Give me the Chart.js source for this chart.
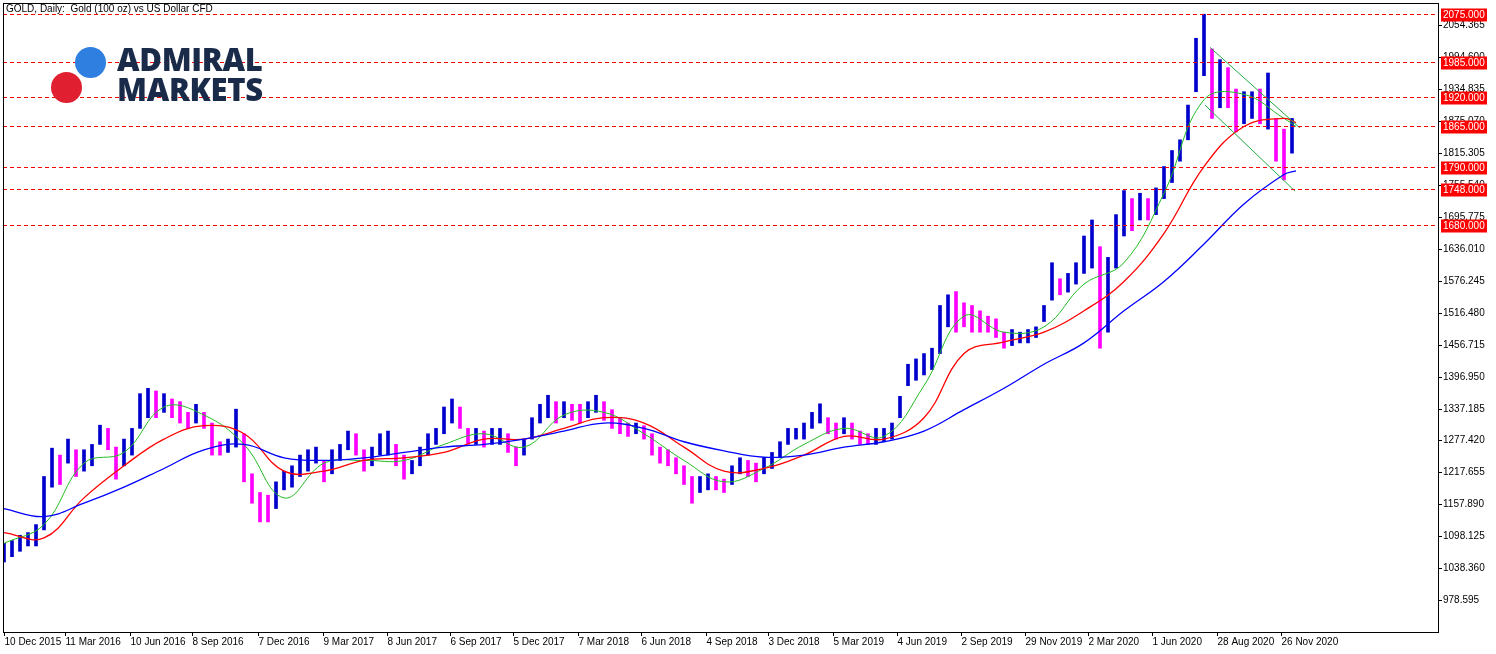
<!DOCTYPE html>
<html><head><meta charset="utf-8">
<script src="https://cdn.jsdelivr.net/npm/chart.js@4.4.1/dist/chart.umd.min.js"></script>
<style>
html,body{margin:0;padding:0;background:#fff;overflow:hidden}
#wrap{position:relative;width:1496px;height:654px}
#logo{position:absolute;left:50px;top:44px;width:230px;height:64px}
.c1{position:absolute;left:25px;top:3px;width:31px;height:31px;border-radius:50%;background:#2f7fe0}
.c2{position:absolute;left:1px;top:28px;width:31px;height:31px;border-radius:50%;background:#e02030}
.lt{position:absolute;left:67px;font:800 31px "Open Sans","DejaVu Sans",sans-serif;color:#1a2b4a;letter-spacing:-0.3px;line-height:30px}
</style></head><body>
<div id="wrap"><canvas id="c" width="1496" height="654"></canvas>
<div id="logo"><div class="c1"></div><div class="c2"></div><div class="lt" style="top:0px">ADMIRAL</div><div class="lt" style="top:30px">MARKETS</div></div>
</div>
<script>
const title = "GOLD, Daily:  Gold (100 oz) vs US Dollar CFD";
const xLabels = ["10 Dec 2015","11 Mar 2016","10 Jun 2016","8 Sep 2016","7 Dec 2016","9 Mar 2017","8 Jun 2017","6 Sep 2017","5 Dec 2017","7 Mar 2018","6 Jun 2018","4 Sep 2018","3 Dec 2018","5 Mar 2019","4 Jun 2019","2 Sep 2019","29 Nov 2019","2 Mar 2020","1 Jun 2020","28 Aug 2020","26 Nov 2020"];
const xLabelPos = [4,65,130,192,258,323,387,450,513,578,641,706,768,833,897,961,1025,1088,1152,1217,1281];
const yTicks = [978.595,1038.360,1098.125,1157.890,1217.655,1277.420,1337.185,1396.950,1456.715,1516.480,1576.245,1636.010,1695.775,1755.540,1815.305,1875.070,1934.835,1994.600,2054.365];
const levels = [2075,1985,1920,1865,1790,1748,1680];
const barStep = 8;
const lows = [1050,1060,1070,1080,1080,1110,1190,1195,1235,1210,1220,1230,1270,1260,1205,1230,1250,1300,1320,1320,1330,1320,1310,1300,1310,1300,1250,1250,1255,1265,1200,1160,1125,1125,1150,1185,1190,1210,1220,1235,1200,1215,1240,1260,1250,1220,1230,1250,1250,1230,1205,1215,1230,1250,1270,1290,1310,1300,1270,1270,1265,1270,1270,1255,1230,1250,1280,1310,1320,1310,1320,1315,1310,1320,1330,1315,1300,1290,1285,1290,1280,1250,1235,1230,1215,1195,1160,1180,1185,1185,1180,1195,1215,1210,1200,1215,1225,1245,1270,1280,1280,1300,1310,1290,1280,1290,1280,1270,1270,1270,1275,1280,1320,1380,1390,1400,1410,1440,1490,1480,1490,1480,1480,1480,1470,1450,1455,1460,1460,1470,1500,1540,1550,1555,1570,1590,1600,1450,1480,1600,1660,1670,1690,1690,1700,1730,1760,1800,1840,1930,1960,1880,1900,1900,1855,1870,1880,1870,1860,1800,1765,1815];
const highs = [1085,1090,1100,1105,1120,1210,1263,1250,1280,1260,1260,1270,1306,1300,1265,1280,1300,1365,1375,1370,1365,1355,1350,1330,1345,1330,1310,1275,1280,1336,1290,1215,1180,1175,1200,1220,1230,1250,1260,1265,1240,1260,1270,1295,1290,1260,1265,1290,1295,1270,1250,1240,1265,1290,1300,1340,1355,1340,1300,1300,1295,1300,1300,1290,1265,1280,1320,1345,1362,1350,1350,1345,1345,1350,1362,1350,1335,1320,1310,1310,1305,1290,1265,1260,1245,1230,1210,1210,1215,1210,1205,1230,1245,1240,1235,1245,1255,1275,1300,1300,1310,1330,1346,1320,1310,1320,1310,1295,1290,1300,1300,1310,1360,1420,1430,1440,1450,1530,1550,1556,1535,1530,1520,1510,1505,1480,1485,1480,1485,1490,1530,1610,1580,1590,1610,1660,1690,1640,1620,1700,1745,1730,1740,1730,1750,1790,1820,1840,1905,2030,2075,2010,1990,1975,1935,1930,1930,1935,1965,1880,1860,1880];
const maStep = 40;
const maFast = [1085,1120,1235,1255,1340,1325,1270,1170,1235,1240,1240,1270,1290,1265,1325,1330,1290,1240,1200,1225,1270,1300,1285,1380,1510,1480,1490,1570,1610,1740,1915,1925,1880];
const maMid  = [1105,1095,1170,1230,1280,1305,1290,1220,1220,1240,1245,1255,1280,1280,1300,1320,1310,1265,1220,1225,1250,1285,1280,1320,1440,1462,1480,1520,1575,1665,1790,1865,1880];
const maSlow = [1150,1135,1160,1190,1225,1260,1270,1245,1240,1245,1255,1265,1270,1280,1295,1310,1300,1275,1258,1246,1250,1265,1275,1295,1335,1375,1420,1460,1520,1575,1645,1720,1775];
const maLast = {fast:1865, mid:1872, slow:1782, x:1296};
const channelUpper = [[1210,2013],[1300,1862]];
const channelLower = [[1205,1905],[1295,1744]];

const bars = lows.map((l,i)=>({x:4+i*barStep, y:[l,highs[i]]}));
const barColors = lows.map((l,i)=>{const m=(l+highs[i])/2; const p=i?(lows[i-1]+highs[i-1])/2:m; return m>=p?'#0000cc':'#ff00ff';});
function ma(arr,last){const d=arr.map((v,i)=>({x:4+i*maStep,y:v})); d.push({x:maLast.x,y:last}); return d;}

const overlay = {
  id:'overlay',
  afterDraw(ch){
    const c=ch.ctx, y=ch.scales.y, a=ch.chartArea;
    c.save();
    c.font='10px "Liberation Sans", Arial, sans-serif';
    c.fillStyle='#000'; c.textBaseline='top'; c.textAlign='left';
    c.fillText(title,6,4);
    c.strokeStyle='#000'; c.lineWidth=1;
    yTicks.forEach(v=>{const py=Math.round(y.getPixelForValue(v))+0.5;
      c.beginPath();c.moveTo(a.right,py);c.lineTo(a.right+4,py);c.stroke();
      c.textBaseline='middle'; c.fillText(v.toFixed(3),a.right+5,py);});
    const x=ch.scales.x;
    xLabels.forEach((t,i)=>{const px=Math.round(x.getPixelForValue(xLabelPos[i]))+0.5;
      c.beginPath();c.moveTo(px,a.bottom);c.lineTo(px,a.bottom+4);c.stroke();
      c.textBaseline='top'; c.fillText(t,px,a.bottom+5);});
    levels.forEach(v=>{const py=Math.round(y.getPixelForValue(v))+0.5;
      c.strokeStyle='#ff0000'; c.setLineDash([4,3]);
      c.beginPath();c.moveTo(a.left,py);c.lineTo(a.right,py);c.stroke(); c.setLineDash([]);
      c.fillStyle='#ff0000'; c.fillRect(a.right+3,py-6,46,13);
      c.fillStyle='#fff'; c.textBaseline='middle'; c.fillText(v.toFixed(3),a.right+5,py+0.5);
      c.fillStyle='#000';});
    c.strokeStyle='#000'; c.strokeRect(a.left+0.5,a.top+0.5,a.right-a.left,a.bottom-a.top);
    c.restore();
  }
};

new Chart(document.getElementById('c'),{
  data:{datasets:[
    {type:'bar',data:bars,backgroundColor:barColors,barThickness:3,order:5},
    {type:'line',data:ma(maSlow,maLast.slow),borderColor:'#0000ff',borderWidth:1.3,pointRadius:0,tension:0.4,order:1},
    {type:'line',data:ma(maMid,maLast.mid),borderColor:'#ff0000',borderWidth:1.3,pointRadius:0,tension:0.4,order:2},
    {type:'line',data:ma(maFast,maLast.fast),borderColor:'#22bb22',borderWidth:1,pointRadius:0,tension:0.4,order:3},
    {type:'line',data:channelUpper.map(p=>({x:p[0],y:p[1]})),borderColor:'#22aa44',borderWidth:1,pointRadius:0,order:0},
    {type:'line',data:channelLower.map(p=>({x:p[0],y:p[1]})),borderColor:'#22aa44',borderWidth:1,pointRadius:0,order:0}
  ]},
  options:{
    responsive:false,animation:false,
    layout:{padding:{left:3,top:3,right:0,bottom:0}},
    plugins:{legend:{display:false},tooltip:{enabled:false}},
    scales:{
      x:{type:'linear',offset:false,min:3,max:1438,grid:{display:false},border:{display:false},ticks:{display:false},afterFit(s){s.height=22;}},
      y:{position:'right',min:919,max:2096,grid:{display:false},border:{display:false},ticks:{display:false},afterFit(s){s.width=58;}}
    }
  },
  plugins:[overlay]
});
</script></body></html>
